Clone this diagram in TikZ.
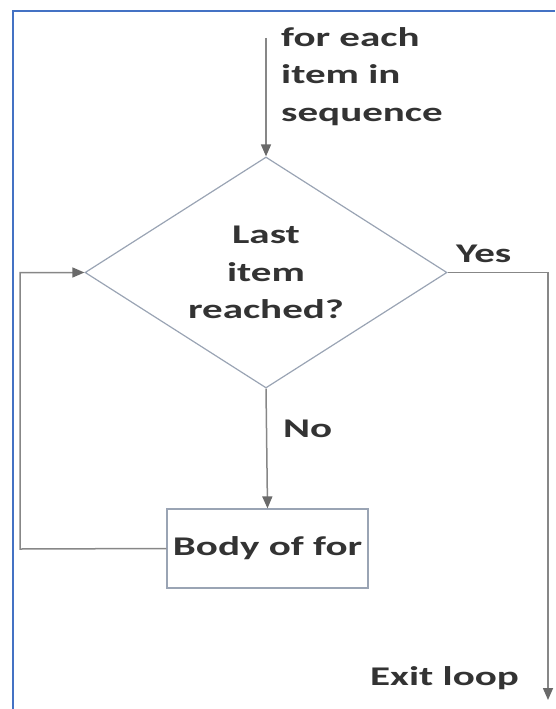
\documentclass[tikz,border=0pt]{standalone}
\usepackage{fontspec}
\setmainfont{Carlito}[FakeStretch=1.52]
\usetikzlibrary{arrows.meta,shapes.geometric}
\definecolor{frameblue}{HTML}{4472C4}
\definecolor{wire}{HTML}{878787}
\definecolor{shapeedge}{HTML}{9AA4B4}
\definecolor{tip}{HTML}{6A6A6A}
\definecolor{ink}{HTML}{333333}
\tikzset{
  lbl/.style={font=\fontsize{27}{37.5}\selectfont\bfseries, text=ink, inner sep=0pt},
  flow/.style={draw=wire, line width=1.5pt,
    -{Triangle[width=10pt,length=12pt,fill=tip,color=tip]}},
  decision/.style={diamond, draw=shapeedge, line width=1.2pt, aspect=1.567,
    minimum width=362pt, minimum height=231pt, inner sep=0pt, align=center, lbl},
  process/.style={rectangle, draw=shapeedge, line width=1.2pt,
    minimum width=201pt, minimum height=79pt, inner sep=0pt, lbl}
}
\begin{document}
\begin{tikzpicture}[x=1pt,y=-1pt]
  \useasboundingbox (0,0) rectangle (555,709);
  % outer frame (left and top edges)
  \draw[frameblue, line width=2.5pt] (13,709) -- (13,11) -- (555,11);

  % shapes
  \node[decision] (dia) at (266,272.5) {Last\\item\\reached?};
  \node[process] (body) at (267.5,548.5) {Body of for};

  % free ends of connectors
  \coordinate (start) at (266,38);
  \coordinate (loopcorner) at (20,549);
  \coordinate (exitend) at (548,700);

  % connectors
  \draw[flow] (start) -- (dia.north);
  \draw[flow] (dia.south) -- (body.north);
  \draw[flow] (body.west) -- (loopcorner) |- (dia.west);
  \draw[flow] (dia.east) -| (exitend);

  % labels
  \node[lbl, anchor=north west, align=left] (seq) at (281,27) {for each\\item in\\sequence};
  \node[lbl, anchor=base west] (yes) at (456,262) {Yes};
  \node[lbl, anchor=base west] (no) at (283,437) {No};
  \node[lbl, anchor=base west] (exit) at (370,685) {Exit loop};
\end{tikzpicture}
\end{document}
